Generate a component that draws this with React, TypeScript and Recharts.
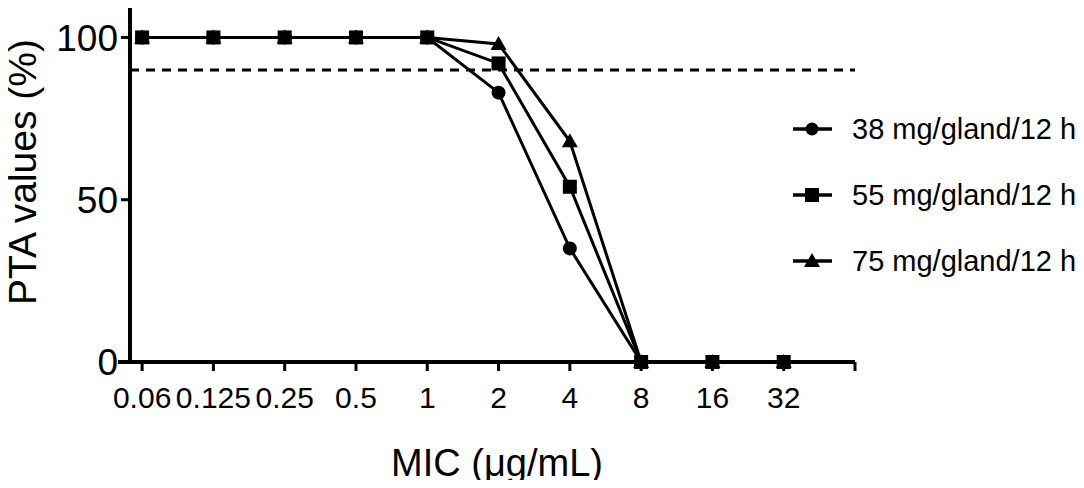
import { Line, LineChart, ReferenceLine, XAxis, YAxis } from 'recharts';

const micLabels = ['0.06', '0.125', '0.25', '0.5', '1', '2', '4', '8', '16', '32'];
const pta38 = [100, 100, 100, 100, 100, 83, 35, 0, 0, 0];
const pta55 = [100, 100, 100, 100, 100, 92, 54, 0, 0, 0];
const pta75 = [100, 100, 100, 100, 100, 98, 68, 0, 0, 0];
const xTicks = [0, 1, 2, 3, 4, 5, 6, 7, 8, 9, 10];
const yTicks = [0, 50, 100];
const target = 90;

const FONT = '"Liberation Sans", Arial, Helvetica, sans-serif';

const data = micLabels.map((mic, i) => ({
  idx: i,
  mic,
  d38: pta38[i],
  d55: pta55[i],
  d75: pta75[i],
}));

const Square = (p: any) => {
  if (p.cx == null || p.cy == null) return null;
  return <rect key={`sq-${p.index}`} x={p.cx - 7} y={p.cy - 7} width={14} height={14} fill="#000" />;
};

const Triangle = (p: any) => {
  if (p.cx == null || p.cy == null) return null;
  const { cx, cy } = p;
  return <polygon key={`tr-${p.index}`} points={`${cx},${cy - 8} ${cx + 8},${cy + 6} ${cx - 8},${cy + 6}`} fill="#000" />;
};

const legendItems = [
  { name: '38 mg/gland/12 h', shape: 'circle' },
  { name: '55 mg/gland/12 h', shape: 'square' },
  { name: '75 mg/gland/12 h', shape: 'triangle' },
];

function LegendMarker({ shape }: { shape: string }) {
  return (
    <svg width={42} height={20} style={{ display: 'block' }}>
      <line x1={1} y1={10} x2={40} y2={10} stroke="#000" strokeWidth={3.5} />
      {shape === 'circle' && <circle cx={20} cy={10} r={6.5} fill="#000" />}
      {shape === 'square' && <rect x={13} y={3} width={14} height={14} fill="#000" />}
      {shape === 'triangle' && <polygon points="20,2 28,16 12,16" fill="#000" />}
    </svg>
  );
}

export default function App() {
  return (
    <div style={{ position: 'relative', width: 1084, height: 488, margin: -8, fontFamily: FONT, background: '#fff' }}>
      <LineChart width={1084} height={488} data={data} margin={{ top: 5, right: 229, bottom: 0, left: 0 }}>
        <XAxis
          type="number"
          dataKey="idx"
          domain={[-0.17, 10]}
          ticks={xTicks}
          interval={0}
          allowDataOverflow
          tickFormatter={(v: number) => micLabels[v] ?? ''}
          height={126}
          axisLine={{ stroke: '#000', strokeWidth: 4 }}
          tickLine={{ stroke: '#000', strokeWidth: 3 }}
          tickSize={9}
          tickMargin={16}
          tick={{ fill: '#000', fontSize: 30, fontFamily: FONT }}
          label={{
            content: () => (
              <text x={497} y={476} textAnchor="middle" fontSize={38} fontFamily={FONT} fill="#000">
                MIC (μg/mL)
              </text>
            ),
          }}
        />
        <YAxis
          type="number"
          domain={[0, 110]}
          ticks={yTicks}
          width={130}
          axisLine={{ stroke: '#000', strokeWidth: 4 }}
          tickLine={{ stroke: '#000', strokeWidth: 3 }}
          tickSize={9}
          tickMargin={3}
          tick={{ fill: '#000', fontSize: 37, fontFamily: FONT }}
          label={{
            content: () => (
              <text
                x={36}
                y={172}
                transform="rotate(-90 36 172)"
                textAnchor="middle"
                fontSize={39}
                fontFamily={FONT}
                fill="#000"
              >
                PTA values (%)
              </text>
            ),
          }}
        />
        <ReferenceLine
          segment={[{ x: -0.34, y: 0 }, { x: -0.17, y: 0 }]}
          ifOverflow="visible"
          stroke="#000"
          strokeWidth={4}
        />
        <ReferenceLine y={target} stroke="#000" strokeWidth={3} strokeDasharray="9 7" />
        <Line
          type="linear"
          dataKey="d38"
          stroke="#000"
          strokeWidth={3}
          dot={{ r: 7, fill: '#000', stroke: 'none' }}
          activeDot={false}
          isAnimationActive={false}
        />
        <Line
          type="linear"
          dataKey="d75"
          stroke="#000"
          strokeWidth={3}
          dot={Triangle}
          activeDot={false}
          isAnimationActive={false}
        />
        <Line
          type="linear"
          dataKey="d55"
          stroke="#000"
          strokeWidth={3}
          dot={Square}
          activeDot={false}
          isAnimationActive={false}
        />
      </LineChart>
      <div style={{ position: 'absolute', left: 792, top: 112 }}>
        {legendItems.map((item) => (
          <div key={item.name} style={{ display: 'flex', alignItems: 'center', height: 34, marginBottom: 32 }}>
            <LegendMarker shape={item.shape} />
            <span style={{ marginLeft: 18, fontSize: 29, color: '#000', whiteSpace: 'nowrap' }}>{item.name}</span>
          </div>
        ))}
      </div>
    </div>
  );
}
